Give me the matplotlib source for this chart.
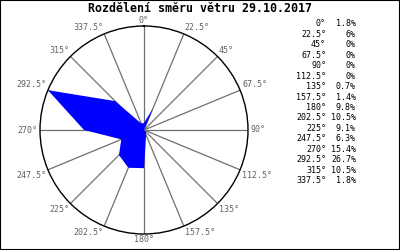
import numpy as np
import matplotlib
matplotlib.use('Agg')
import matplotlib.pyplot as plt

# data: wind direction distribution
smery = [0, 22.5, 45, 67.5, 90, 112.5, 135, 157.5, 180, 202.5, 225, 247.5, 270, 292.5, 315, 337.5]
procenta = [1.8, 6, 0, 0, 0, 0, 0.7, 1.4, 9.8, 10.5, 9.1, 6.3, 15.4, 26.7, 10.5, 1.8]
titulek = "Rozdělení směru větru 29.10.2017"


def main():
    W, H = 400, 250
    fig = plt.figure(figsize=(W / 100, H / 100), dpi=100)
    fig.patch.set_facecolor('white')
    plt.rcParams['font.family'] = ['DejaVu Sans Mono']

    # polar axes: center (144,130), radius 104 px
    cx, cy, R = 144, 130, 104
    ax = fig.add_axes([(cx - R) / W, (H - cy - R) / H, 2 * R / W, 2 * R / H], projection='polar')
    ax.set_theta_zero_location('N')
    ax.set_theta_direction(-1)
    rmax = max(procenta)
    ax.set_ylim(0, rmax)
    ax.grid(False)
    ax.set_xticks([])
    ax.set_yticks([])
    ax.spines['polar'].set_color('black')
    ax.spines['polar'].set_linewidth(1.0)
    ax.spines['polar'].set_zorder(5)

    th = np.radians(smery)
    for t in th:
        ax.plot([t, t], [0, rmax], color='#707070', lw=0.9, zorder=1)

    # filled rose
    tt = np.append(th, th[0])
    rr = np.append(procenta, procenta[0])
    ax.fill(tt, rr, color='#0000ff', lw=0, zorder=2)

    # direction labels around the circle
    for a, t in zip(smery, th):
        s, c = np.sin(t), np.cos(t)
        ha = 'left' if s > 0.1 else ('right' if s < -0.1 else 'center')
        va = 'bottom' if c > 0.1 else ('top' if c < -0.1 else 'center')
        off = 1.02 if abs(s) > 0.1 else 1.01
        ax.text(t, rmax * off, '%g°' % a, ha=ha, va=va, fontsize=6,
                color='#606060', clip_on=False)

    # title
    fig.text(0.5, 1 - 8 / H, titulek, ha='center', va='center',
             fontsize=8.4, fontweight='bold', color='black')

    # table on the right
    y0, dy = 24, 10.43
    for i, (a, p) in enumerate(zip(smery, procenta)):
        y = 1 - (y0 + i * dy) / H
        fig.text(326 / W, y, '%g°' % a, ha='right', va='center', fontsize=6, color='black')
        fig.text(356 / W, y, '%g%%' % p, ha='right', va='center', fontsize=6, color='black')

    # frame
    fig.patches.append(plt.Rectangle((0, 0), 1, 1, transform=fig.transFigure,
                                     fill=False, ec='black', lw=1.5))

    fig.savefig('out.png', dpi=100)


if __name__ == "__main__":
    main()
